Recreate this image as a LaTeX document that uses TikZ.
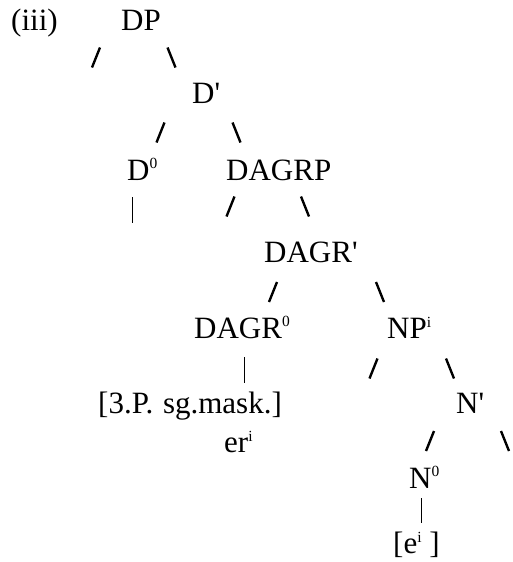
\documentclass[tikz,border=0pt]{standalone}
\usepackage{fontspec}
\setmainfont{Liberation Serif}[Ligatures=ResetAll]
\newcommand\supx[2][12pt]{\raisebox{#1}{\fontsize{15.5}{15.5}\selectfont #2}}
\newcommand\apo{\textquotesingle}
\begin{document}
\begin{tikzpicture}[x=1pt,y=-1pt,
  lab/.style={anchor=base west,inner sep=0pt,font=\fontsize{31}{36}\selectfont},
  slash/.style={line width=2.4pt},
  bar/.style={line width=0.9pt}]
\useasboundingbox (0,0) rectangle (513,562);
% labels
\node[lab] (iii) at (11,30) {(iii)};
\node[lab] (dp) at (121,30) {DP};
\node[lab] (dbar) at (192,103) {D\apo};
\node[lab] (d0) at (127,180) {D\supx{0}};
\node[lab] (dagrp) at (226,180) {DAGRP};
\node[lab] (dagrbar) at (264,262) {DAGR\apo};
\node[lab] (dagr0) at (194,338) {DAGR\supx{0}};
\node[lab] (np) at (387,338) {NP\supx[11pt]{i}};
\node[lab] (feat) at (98,413) {[3.P.\hspace{2pt} sg.mask.]};
\node[lab] (nbar) at (456,413) {N\apo};
\node[lab] (er) at (224,452) {er\supx[11pt]{i}};
\node[lab] (n0) at (409,488) {N\supx{0}};
\node[lab] (e) at (393,553) {[e\supx[11pt]{i} ]};
% slashes
\newcommand\fsl[2]{\draw[slash] (#1-4,#2+10) -- (#1+4,#2-10);}
\newcommand\bsl[2]{\draw[slash] (#1-4,#2-10) -- (#1+4,#2+10);}
\fsl{96}{57.5}  \bsl{171.5}{57.5}
\fsl{160.5}{132.5} \bsl{236.5}{132.5}
\fsl{230.5}{206.5} \bsl{305}{206.5}
\fsl{273}{292} \bsl{380}{292}
\fsl{373.5}{368.5} \bsl{450}{368.5}
\fsl{430}{441} \bsl{505}{441}
% bars
\draw[bar] (132,197) -- (132,223);
\draw[bar] (244,357) -- (244,383);
\draw[bar] (421,498) -- (421,523);
\end{tikzpicture}
\end{document}
